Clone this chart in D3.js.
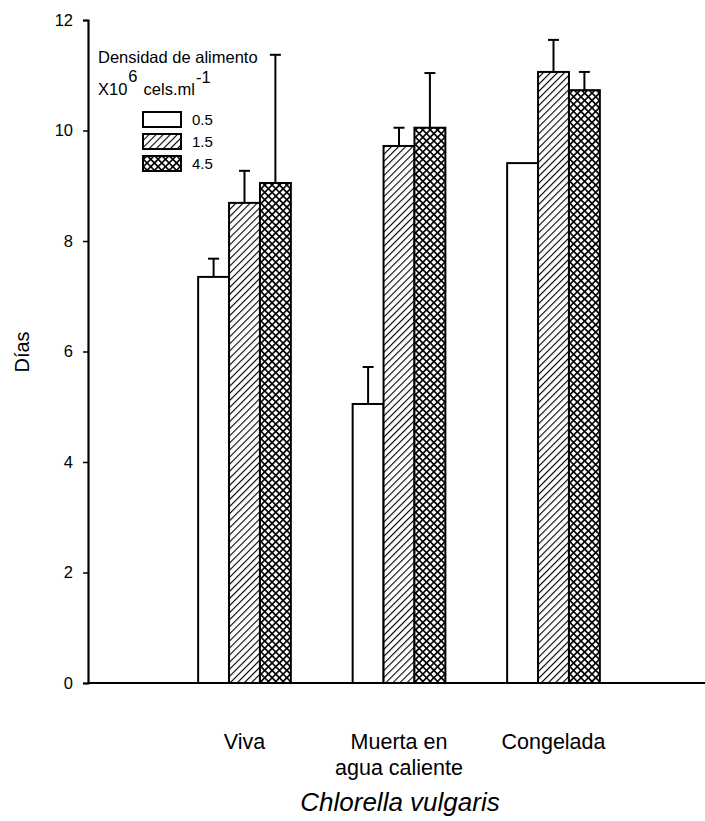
<!DOCTYPE html>
<html>
<head>
<meta charset="utf-8">
<script src="https://cdn.jsdelivr.net/npm/d3@7"></script>
<style>
  body { margin: 0; background: #fff; }
  svg { display: block; font-family: "Liberation Sans", Arial, sans-serif; }
</style>
</head>
<body>
<svg id="chart" width="705" height="821"></svg>
<script>
// Food type categories and food density series
const categories = ["Viva", "Muerta en agua caliente", "Congelada"];
const categoryLines = [["Viva"], ["Muerta en", "agua caliente"], ["Congelada"]];
const densities = ["0.5", "1.5", "4.5"];

// Days (mean) per category, one array per density
const days05 = [7.35, 5.05, 9.41];
const days15 = [8.69, 9.72, 11.06];
const days45 = [9.05, 10.05, 10.73];

// Upper error (days)
const err05 = [0.33, 0.67, 0];
const err15 = [0.58, 0.33, 0.58];
const err45 = [2.32, 0.99, 0.33];

const yTicks = [0, 2, 4, 6, 8, 10, 12];

const means = [days05, days15, days45];
const errs = [err05, err15, err45];

const svg = d3.select("#chart");

const y = d3.scaleLinear().domain([0, 12]).range([683, 20]);
const x = d3.scaleBand().domain(categories).range([167.25, 630.75])
  .paddingInner(0.4).paddingOuter(0.2);
const xs = d3.scaleBand().domain(densities).range([0, x.bandwidth()]);

// Fill patterns
const defs = svg.append("defs");
const hatch = defs.append("pattern").attr("id", "hatch")
  .attr("patternUnits", "userSpaceOnUse").attr("width", 5).attr("height", 5)
  .attr("patternTransform", "rotate(45)");
hatch.append("rect").attr("width", 5).attr("height", 5).attr("fill", "#fff");
hatch.append("line").attr("x1", 0).attr("y1", 0).attr("x2", 0).attr("y2", 5)
  .attr("stroke", "#000").attr("stroke-width", 2.2);

const cross = defs.append("pattern").attr("id", "cross")
  .attr("patternUnits", "userSpaceOnUse").attr("width", 5.2).attr("height", 5.2)
  .attr("patternTransform", "rotate(45)");
cross.append("rect").attr("width", 5.2).attr("height", 5.2).attr("fill", "#fff");
cross.append("line").attr("x1", 0).attr("y1", 0).attr("x2", 0).attr("y2", 5.2)
  .attr("stroke", "#000").attr("stroke-width", 3.3);
cross.append("line").attr("x1", 0).attr("y1", 0).attr("x2", 5.2).attr("y2", 0)
  .attr("stroke", "#000").attr("stroke-width", 3.3);

const fills = ["#fff", "url(#hatch)", "url(#cross)"];

// Bars and error bars
const g = svg.append("g");
densities.forEach((d, si) => {
  categories.forEach((c, ci) => {
    const v = means[si][ci];
    const e = errs[si][ci];
    const bx = x(c) + xs(d);
    const bw = xs.bandwidth();
    if (e > 0) {
      const cx = bx + bw / 2;
      g.append("line").attr("x1", cx).attr("x2", cx)
        .attr("y1", y(v)).attr("y2", y(v + e))
        .attr("stroke", "#000").attr("stroke-width", 2);
      g.append("line").attr("x1", cx - 5.5).attr("x2", cx + 5.5)
        .attr("y1", y(v + e)).attr("y2", y(v + e))
        .attr("stroke", "#000").attr("stroke-width", 2);
    }
    g.append("rect").attr("x", bx).attr("y", y(v))
      .attr("width", bw).attr("height", y(0) - y(v))
      .attr("fill", fills[si]).attr("stroke", "#000").attr("stroke-width", 2);
  });
});

// Y axis
const yAxis = svg.append("g").attr("transform", "translate(88,0)")
  .call(d3.axisLeft(y).tickValues(yTicks).tickSize(5).tickPadding(10).tickFormat(d3.format("d")));
yAxis.select(".domain").attr("stroke-width", 2.2);
yAxis.selectAll(".tick line").attr("stroke-width", 1.5);
yAxis.selectAll("text").attr("font-size", 16.5).attr("fill", "#000")
  .attr("font-family", "Liberation Sans, Arial, sans-serif");

// X axis baseline
svg.append("line").attr("x1", 88).attr("x2", 705).attr("y1", y(0)).attr("y2", y(0))
  .attr("stroke", "#000").attr("stroke-width", 2.2);

// Category labels
categories.forEach((c, i) => {
  const cx = x(c) + x.bandwidth() / 2;
  const t = svg.append("text").attr("x", cx).attr("y", 749)
    .attr("text-anchor", "middle").attr("font-size", 21.5);
  categoryLines[i].forEach((ln, k) => {
    t.append("tspan").attr("x", cx).attr("dy", k === 0 ? 0 : 26).text(ln);
  });
});

// Axis titles
svg.append("text").attr("transform", "translate(29,352) rotate(-90)")
  .attr("text-anchor", "middle").attr("font-size", 20).text("Días");
svg.append("text").attr("x", 400).attr("y", 811).attr("text-anchor", "middle")
  .attr("font-size", 26).attr("font-style", "italic").text("Chlorella vulgaris");

// Legend
const lg = svg.append("g");
lg.append("text").attr("x", 98).attr("y", 63).attr("font-size", 16.5).text("Densidad de alimento");
const l2 = lg.append("text").attr("x", 98).attr("y", 95).attr("font-size", 16.5);
l2.append("tspan").text("X10");
l2.append("tspan").attr("dy", -13).attr("dx", 1).text("6");
l2.append("tspan").attr("dy", 13).attr("dx", 6).text("cels.ml");
l2.append("tspan").attr("dy", -12).attr("dx", 1).text("-1");

densities.forEach((d, i) => {
  const ty = 112 + i * 22;
  lg.append("rect").attr("x", 143).attr("y", ty).attr("width", 38).attr("height", 15)
    .attr("fill", fills[i]).attr("stroke", "#000").attr("stroke-width", 2);
  lg.append("text").attr("x", 192).attr("y", ty + 13).attr("font-size", 15).text(d);
});
</script>
</body>
</html>
